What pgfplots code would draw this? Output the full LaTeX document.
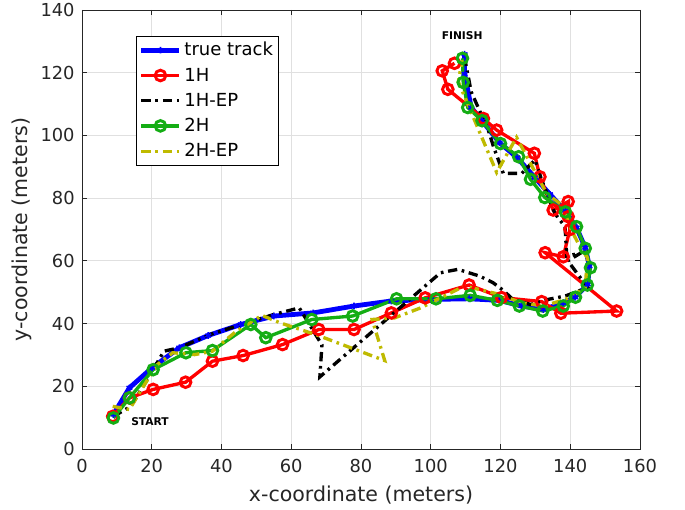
\documentclass[border=0pt]{standalone}
\usepackage{fontspec}
\setmainfont{DejaVu Sans}
\usepackage{pgfplots}
\pgfplotsset{compat=1.18}

\definecolor{mgreen}{rgb}{0.08,0.68,0.08}
\definecolor{molive}{rgb}{0.75,0.73,0.0}
\definecolor{axgray}{rgb}{0.15,0.15,0.15}

\begin{document}
\begin{tikzpicture}
\begin{axis}[
    scale only axis,
    width=418.5pt, height=329.25pt,
    at={(0,0)}, anchor=south west,
    xmin=0, xmax=160, ymin=0, ymax=140,
    xtick={0,20,...,160}, ytick={0,20,...,140},
    tick align=inside,
    major tick length=4pt,
    grid=major,
    grid style={color=black!12, line width=0.6pt},
    axis line style={axgray, line width=0.6pt},
    tick style={axgray, line width=0.6pt},
    /pgf/number format/assume math mode=true,
    tick label style={font=\fontsize{13.4}{16}\selectfont, text=axgray},
    xticklabel style={yshift=-4pt},
    yticklabel style={xshift=-2pt},
    label style={font=\fontsize{15.4}{18}\selectfont, text=axgray},
    xlabel={x-coordinate (meters)},
    ylabel={y-coordinate (meters)},
    xlabel style={at={(axis description cs:0.5,-0.105)}, anchor=center},
    ylabel style={at={(axis description cs:-0.1075,0.5)}, anchor=center},
    legend cell align=left,
    legend style={
        at={(0.0968,0.941)}, anchor=north west,
        draw=black, line width=0.6pt,
        font=\fontsize{13.5}{16}\selectfont,
        inner xsep=2pt, inner ysep=2.5pt,
        row sep=3.5pt,
    },
    legend image code/.code={
        \draw[mark repeat=2, mark phase=2, #1]
            plot coordinates {(0cm,0cm) (0.5cm,0cm) (1cm,0cm)};
    },
]

% true track
\addplot[blue, line width=3.6pt, mark=asterisk, mark size=2.5pt,
         mark options={line width=1.2pt}] coordinates {
(9,11) (13.6,19.5) (20.1,25.9) (27.9,32.3) (36.2,36.2) (45.5,39.7)
(55,42.4) (66.3,43.4) (78,45.6) (88.7,47.2) (100,47.7) (111,47.9)
(119.7,47.4) (126,45.6) (132.3,44.5) (138,46.6) (141.4,48.4) (145,52.5)
(145.5,58.3) (144.3,64.2) (141.8,70.6) (138.6,75.9) (134.2,81.2)
(129.8,86.6) (124.8,92.9) (119.7,97.7) (114.7,104.7) (111.6,108.9)
(109.7,119.6) (109.7,125.9)
};
\addlegendentry{true track}

% 1H
\addplot[red, line width=2.5pt, mark=o, mark size=4pt,
         mark options={solid, line width=2.2pt}] coordinates {
(8.8,10.4) (13.6,16.3) (20.4,19) (29.7,21.3) (37.4,28) (46.2,29.8)
(57.5,33.3) (67.9,38.1) (78,38.1) (88.7,43.4) (98.4,48.2) (111,52.3)
(120.3,48.3) (131.8,47) (137.3,43.3) (153.3,44) (132.8,62.6) (138,61.3)
(139.9,70) (139.4,74.1) (139.4,78.9) (135.1,76.2) (131.3,86.8)
(129.7,94.3) (118.9,101.7) (115.1,105.4) (104.9,114.7) (103.3,120.6)
(106.8,123)
};
\addlegendentry{1H}

% 1H-EP
\addplot[black, line width=2.5pt,
         dash pattern=on 7pt off 3.5pt on 2pt off 3.5pt] coordinates {
(9,10.4) (14,13.6) (19,22.7) (23.5,31.2) (28,32.3) (36.7,36.5)
(44.3,39.2) (55,42.9) (62.3,45) (68.8,33.2) (68.2,23) (102.8,56.2)
(107.8,57.3) (114.1,55.1) (117.9,53) (121,50.4) (123.5,47.7)
(128.6,46.1) (133.6,47.7) (138.6,48.8) (145,51.5) (139.3,60)
(143,62.5) (139,61.5) (138.5,70.9) (135.6,75.1) (131.8,85.8)
(129.9,92.2) (126.1,87.9) (120.8,87.9) (118,96.4) (116.5,101.7)
(111.6,113.9) (109.9,123.7)
};
\addlegendentry{1H-EP}

% 2H
\addplot[mgreen, line width=2.5pt, mark=o, mark size=4pt,
         mark options={solid, line width=2.2pt}] coordinates {
(9,9.9) (13.6,16.3) (20.4,25.3) (29.8,30.7) (37.4,31.4) (48.4,39.7)
(52.7,35.5) (65.9,41.3) (77.6,42.4) (90.2,47.9) (101.5,47.9)
(111.3,49) (119.1,47.4) (125.4,45.6) (132.1,44) (138,45.6) (141.5,48.4)
(144.9,52.3) (145.8,57.8) (144.3,64) (141.8,70.9) (138.6,75.6)
(132.7,80.2) (128.6,86) (125.2,93.2) (120,97.4) (114.7,104.7)
(110.6,108.9) (109.3,116.9) (109.1,124.6)
};
\addlegendentry{2H}

% 2H-EP
\addplot[molive, line width=2.5pt,
         dash pattern=on 7pt off 3.5pt on 2pt off 3.5pt] coordinates {
(8.8,13.6) (13.6,12.6) (17.9,20.5) (21.6,26.9) (26,30.7) (32.3,30.1)
(37.4,31.2) (44.3,37.6) (51.6,42.6) (56.9,40.2) (67,36.5) (77,32.3)
(86.8,28.2) (83.2,41.3) (89.6,41.8) (97.1,45) (109.7,52) (119.7,49.3)
(126,46.6) (132.3,45.6) (138.6,47.7) (144.3,51.4) (144.9,61)
(142.4,65.3) (140.5,69.5) (137.4,78) (133.2,81.5) (124.6,99.4)
(118.9,88.2) (107.9,117.1) (109,124)
};
\addlegendentry{2H-EP}

\node[font=\fontsize{8}{9}\selectfont\bfseries] at (axis cs:19.5,8.6) {START};
\node[font=\fontsize{8}{9}\selectfont\bfseries] at (axis cs:109,131.7) {FINISH};
\end{axis}
\pgfresetboundingbox
\useasboundingbox (-61.5pt,-45.75pt) rectangle (452.25pt,336.75pt);
\end{tikzpicture}
\end{document}
